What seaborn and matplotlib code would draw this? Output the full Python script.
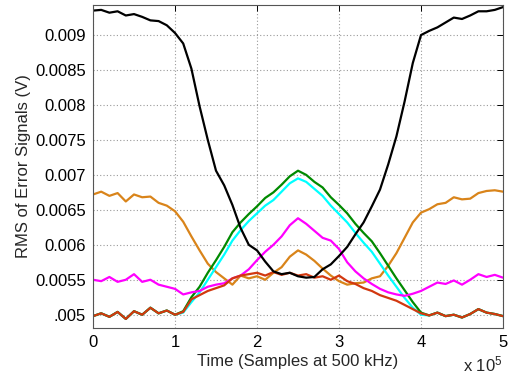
import numpy as np
import pandas as pd
import matplotlib
matplotlib.use("Agg")
import matplotlib.pyplot as plt
import seaborn as sns

# x positions (units of 1e5 samples)
t_steps = [i / 10 for i in range(51)]

black = [0.00935, 0.00936, 0.00932, 0.00934, 0.00928, 0.00930, 0.00926, 0.00921, 0.00920, 0.00914,
         0.00903, 0.00888, 0.00852, 0.00798, 0.00750, 0.00706, 0.00685, 0.00657, 0.00624, 0.00600,
         0.00592, 0.00576, 0.00562, 0.00558, 0.00560, 0.00555, 0.00553, 0.00554, 0.00565, 0.00572,
         0.00584, 0.00597, 0.00615, 0.00632, 0.00655, 0.00679, 0.00715, 0.00755, 0.00805, 0.00860,
         0.00900, 0.00906, 0.00911, 0.00918, 0.00925, 0.00923, 0.00928, 0.00934, 0.00934, 0.00936,
         0.00940]

orange = [0.00672, 0.00676, 0.00670, 0.00674, 0.00662, 0.00672, 0.00668, 0.00669, 0.00660, 0.00656,
          0.00648, 0.00633, 0.00612, 0.00592, 0.00573, 0.00561, 0.00552, 0.00543, 0.00556, 0.00552,
          0.00555, 0.00550, 0.00560, 0.00568, 0.00583, 0.00592, 0.00586, 0.00577, 0.00566, 0.00556,
          0.00548, 0.00543, 0.00545, 0.00546, 0.00552, 0.00555, 0.00570, 0.00588, 0.00610, 0.00632,
          0.00646, 0.00651, 0.00658, 0.00660, 0.00668, 0.00665, 0.00666, 0.00674, 0.00677, 0.00678,
          0.00676]

green = [0.00498, 0.00502, 0.00497, 0.00504, 0.00494, 0.00505, 0.00500, 0.00510, 0.00502, 0.00506,
         0.00500, 0.00505, 0.00525, 0.00540, 0.00560, 0.00578, 0.00597, 0.00618, 0.00632, 0.00644,
         0.00655, 0.00667, 0.00675, 0.00686, 0.00698, 0.00706, 0.00700, 0.00690, 0.00682, 0.00668,
         0.00657, 0.00645, 0.00630, 0.00617, 0.00605, 0.00588, 0.00570, 0.00552, 0.00535, 0.00518,
         0.00503, 0.00499, 0.00503, 0.00498, 0.00500, 0.00496, 0.00501, 0.00508, 0.00503, 0.00501,
         0.00498]

cyan = [0.00498, 0.00502, 0.00497, 0.00504, 0.00494, 0.00505, 0.00500, 0.00510, 0.00502, 0.00506,
        0.00500, 0.00503, 0.00518, 0.00532, 0.00550, 0.00568, 0.00586, 0.00606, 0.00621, 0.00634,
        0.00645, 0.00656, 0.00664, 0.00676, 0.00688, 0.00695, 0.00690, 0.00680, 0.00670, 0.00656,
        0.00644, 0.00632, 0.00617, 0.00603, 0.00590, 0.00573, 0.00556, 0.00540, 0.00524, 0.00510,
        0.00500, 0.00499, 0.00503, 0.00498, 0.00500, 0.00496, 0.00501, 0.00508, 0.00503, 0.00501,
        0.00498]

magenta = [0.00550, 0.00548, 0.00554, 0.00547, 0.00550, 0.00558, 0.00547, 0.00550, 0.00543, 0.00540,
           0.00537, 0.00529, 0.00532, 0.00534, 0.00540, 0.00543, 0.00545, 0.00552, 0.00556, 0.00565,
           0.00578, 0.00590, 0.00600, 0.00612, 0.00628, 0.00638, 0.00630, 0.00620, 0.00610, 0.00606,
           0.00594, 0.00575, 0.00562, 0.00552, 0.00544, 0.00537, 0.00532, 0.00529, 0.00527, 0.00530,
           0.00534, 0.00540, 0.00546, 0.00544, 0.00549, 0.00543, 0.00550, 0.00558, 0.00554, 0.00557,
           0.00553]

red = [0.00498, 0.00502, 0.00497, 0.00504, 0.00494, 0.00505, 0.00500, 0.00510, 0.00502, 0.00506,
       0.00500, 0.00504, 0.00522, 0.00528, 0.00534, 0.00538, 0.00542, 0.00552, 0.00556, 0.00558,
       0.00560, 0.00556, 0.00561, 0.00557, 0.00560, 0.00556, 0.00558, 0.00553, 0.00555, 0.00550,
       0.00556, 0.00548, 0.00544, 0.00538, 0.00534, 0.00528, 0.00524, 0.00520, 0.00514, 0.00508,
       0.00502, 0.00499, 0.00503, 0.00498, 0.00500, 0.00496, 0.00501, 0.00508, 0.00503, 0.00501,
       0.00498]

series_names = ["orange", "cyan", "green", "magenta", "red", "black"]
series_colors = ["#D9841A", "#00FFFF", "#008A00", "#FF00FF", "#D2380F", "#000000"]
series_values = [orange, cyan, green, magenta, red, black]

y_ticks = [0.005, 0.0055, 0.006, 0.0065, 0.007, 0.0075, 0.008, 0.0085, 0.009]
y_tick_labels = [".005", "0.0055", "0.006", "0.0065", "0.007", "0.0075", "0.008", "0.0085", "0.009"]
x_ticks = [0, 1e5, 2e5, 3e5, 4e5, 5e5]
x_tick_labels = ["0", "1", "2", "3", "4", "5"]

frames = []
for name, vals in zip(series_names, series_values):
    frames.append(pd.DataFrame({"t": np.array(t_steps) * 1e5, "v": vals, "series": name}))
df = pd.concat(frames, ignore_index=True)

sns.set_theme(style="white")
plt.rcParams["font.family"] = ["Liberation Sans", "DejaVu Sans"]
plt.rcParams["mathtext.default"] = "regular"

fig = plt.figure(figsize=(5.08, 3.81), dpi=100)
ax = fig.add_axes([93 / 508, 53 / 381, 410 / 508, 323 / 381])

sns.lineplot(data=df, x="t", y="v", hue="series", hue_order=series_names,
             palette=dict(zip(series_names, series_colors)), linewidth=1.6,
             legend=False, ax=ax, estimator=None, sort=False)

ax.set_xlim(0, 5e5)
ax.set_ylim(0.00481, 0.00943)
ax.set_xticks(x_ticks)
ax.set_xticklabels(x_tick_labels)
ax.set_yticks(y_ticks)
ax.set_yticklabels(y_tick_labels)

ax.grid(True, color="#9a9a9a", linestyle=(0, (1, 2)), linewidth=0.8)
ax.tick_params(direction="in", length=4, width=0.7, top=True, right=True,
               labelsize=12, colors="black", pad=5)
for s in ax.spines.values():
    s.set_color("#555555")
    s.set_linewidth(0.8)

ax.set_xlabel("Time (Samples at 500 kHz)", fontsize=12, labelpad=3)
ax.set_ylabel("RMS of Error Signals (V)", fontsize=12)
ax.yaxis.set_label_coords(-0.152, 0.5)
fig.text(503 / 508, 10 / 381, r"x 10$^{5}$", ha="right", va="baseline", fontsize=12)

fig.savefig("out.png", dpi=100)
